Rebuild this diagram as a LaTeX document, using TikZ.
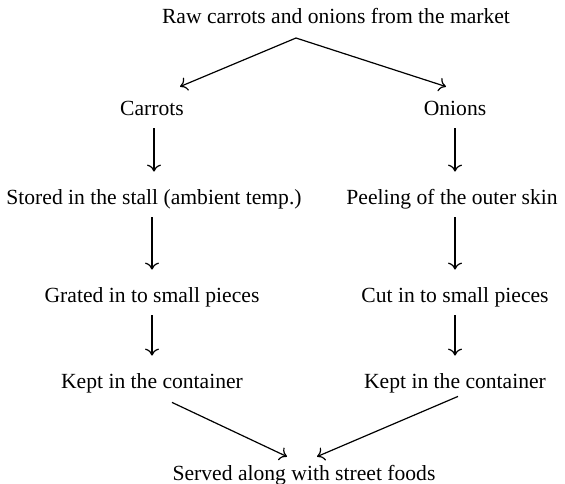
\documentclass[tikz,border=0pt]{standalone}
\usepackage{fontspec}
\setmainfont{Liberation Serif}
\usetikzlibrary{arrows.meta, positioning}

\begin{document}
\begin{tikzpicture}[
        x=0.5pt, y=-0.5pt,
        stage/.style={inner sep=0pt, text height=7pt, text depth=2pt, font=\fontsize{10.8}{13}\selectfont},
        link/.style={line width=0.6pt, -{To[length=3.5pt, width=7pt]}},
        arrow/.style={link, shorten <=4.5pt, shorten >=9pt}
    ]
    \useasboundingbox (0,0) rectangle (565,483);

    % Source
    \node[stage] (market) at (336, 18) {Raw carrots and onions from the market};
    \coordinate (split) at (296, 38);

    % Carrots branch
    \node[stage] (carrots) at (152, 110) {Carrots};
    \node[stage] (stored) at (154, 199) {Stored in the stall (ambient temp.)};
    \node[stage] (grated) at (152, 297) {Grated in to small pieces};
    \node[stage] (keptCarrots) at (152, 383) {Kept in the container};

    % Onions branch
    \node[stage] (onions) at (455, 110) {Onions};
    \node[stage] (peeling) at (452, 199) {Peeling of the outer skin};
    \node[stage] (cut) at (455, 297) {Cut in to small pieces};
    \node[stage] (keptOnions) at (455, 383) {Kept in the container};

    % Result
    \node[stage] (served) at (304, 475) {Served along with street foods};

    \draw[link] (split) -- ([shift={(28,-14)}]carrots.north);
    \draw[link] (split) -- ([shift={(-9,-14)}]onions.north);

    \draw[arrow] (carrots.south -| stored) -- (stored);
    \draw[arrow] (stored.south -| carrots) -- (grated);
    \draw[arrow] (grated) -- (keptCarrots);

    \draw[arrow] (onions) -- (peeling.north -| onions);
    \draw[arrow] (peeling.south -| onions) -- (cut);
    \draw[arrow] (cut) -- (keptOnions);

    \draw[link] ([shift={(20,10)}]keptCarrots.south) -- ([shift={(-17,-9)}]served.north);
    \draw[link] ([shift={(3,4)}]keptOnions.south) -- ([shift={(13,-9)}]served.north);
\end{tikzpicture}
\end{document}
